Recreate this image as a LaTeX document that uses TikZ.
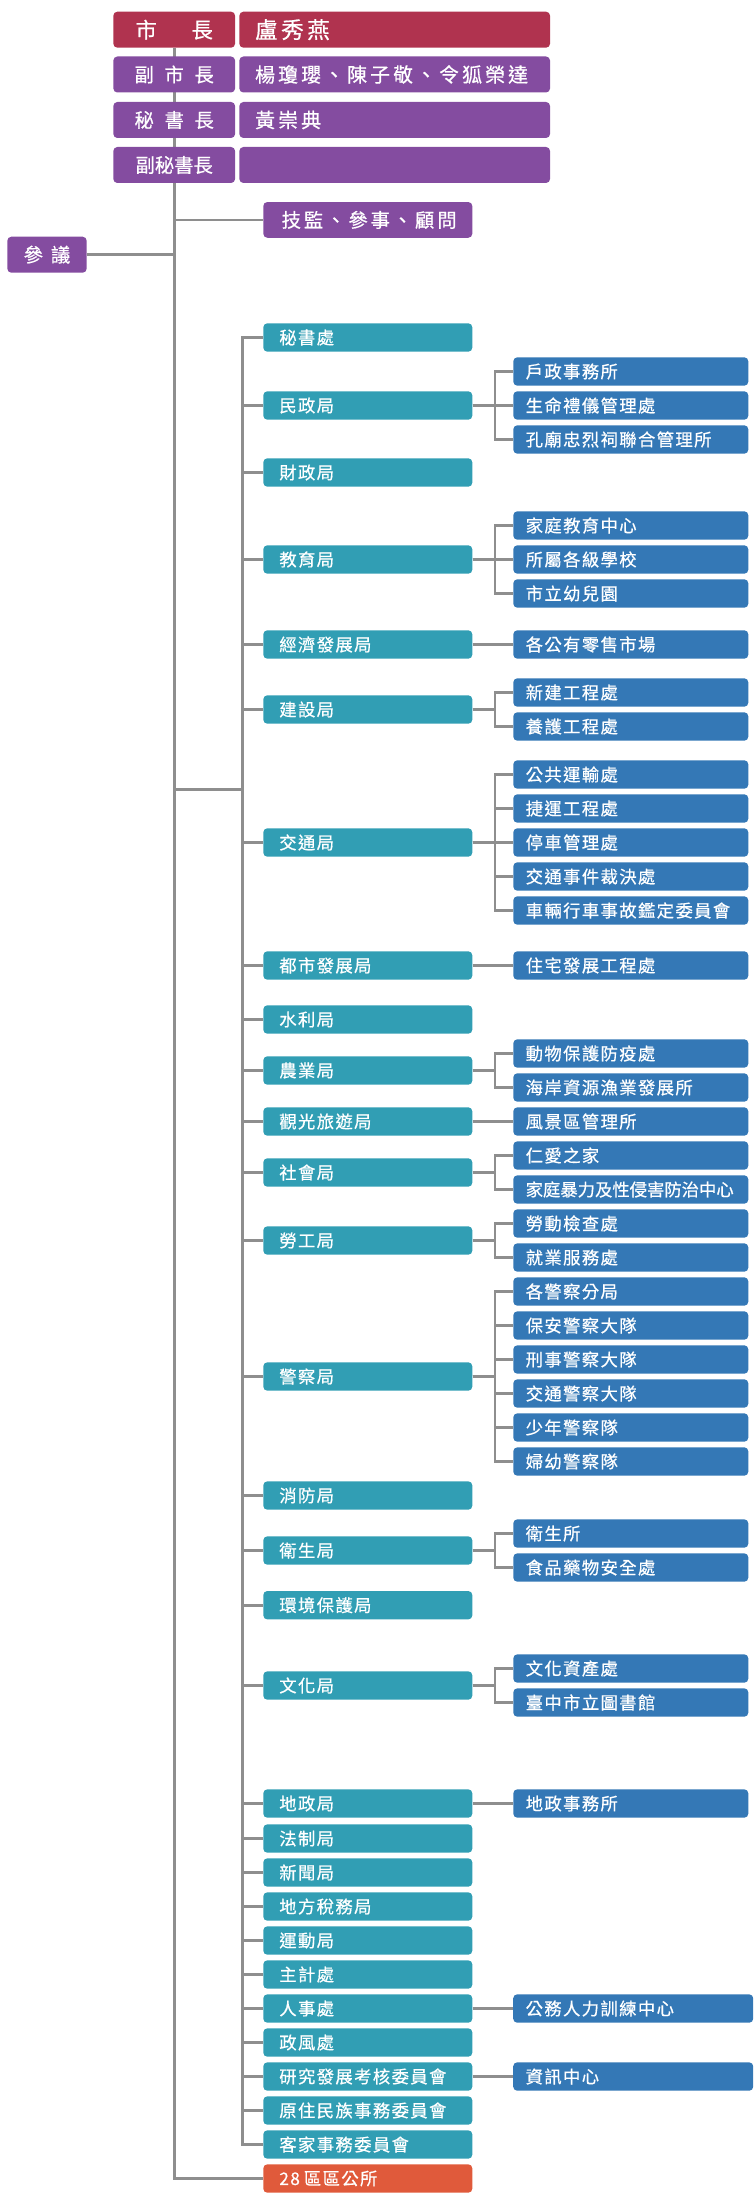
\documentclass[tikz,border=0pt]{standalone}
\usepackage{fontspec}
\usetikzlibrary{backgrounds}
\setmainfont{Noto Sans CJK TC}[FakeBold=0.6]
\newfontfamily\orgfont{Noto Sans CJK TC}[LetterSpace=8, FakeBold=0.6]
\newfontfamily\namefont{Noto Sans CJK TC}[LetterSpace=15, FakeBold=0.6]

\definecolor{mayorred}{HTML}{B0334F}
\definecolor{cabpurple}{HTML}{844CA0}
\definecolor{deptteal}{HTML}{319EB4}
\definecolor{unitblue}{HTML}{3478B6}
\definecolor{distorange}{HTML}{E05A3B}
\definecolor{linkgray}{HTML}{8E8E8E}

\begin{document}
\begin{tikzpicture}[x=0.75pt, y=-0.75pt,
        box/.style={rounded corners=3pt, inner ysep=0pt, text=white},
        head/.style={box, fill=cabpurple, minimum width=91.3pt, minimum height=27pt, inner xsep=0pt, font=\fontsize{14.5pt}{17pt}\selectfont},
        headname/.style={box, fill=cabpurple, minimum height=27pt, inner xsep=11.8pt, text width=209.4pt, align=left, font=\namefont\fontsize{15pt}{17pt}\selectfont},
        bureau/.style={box, fill=deptteal, minimum height=21.3pt, inner xsep=12pt, text width=132.75pt, align=left, font=\orgfont\fontsize{13pt}{15pt}\selectfont},
        unit/.style={box, fill=unitblue, minimum height=21.3pt, inner xsep=9.3pt, text width=157.65pt, align=left, font=\orgfont\fontsize{13pt}{15pt}\selectfont},
        unitwide/.style={unit, text width=161.4pt},
        link/.style={draw=linkgray, line width=2pt}
    ]

    \useasboundingbox (0,0) rectangle (756,2201);

    \def\bx{367.8} % bureau column
    \def\ux{630.8} % unit column

    % mayor, deputies, secretaries
    \node[head, fill=mayorred, font=\fontsize{16pt}{18pt}\selectfont] (mayor) at (174.2, 29.7) {市\hspace{26pt}長};
    \node[headname, fill=mayorred, font=\namefont\fontsize{17pt}{19pt}\selectfont] (mayorname) at (394.7, 29.7) {盧秀燕};
    \node[head] (deputy) at (174.2, 74.5) {副\hspace{8pt}市\hspace{8pt}長};
    \node[headname] (deputyname) at (394.7, 74.5) {楊瓊瓔、陳子敬、令狐榮達};
    \node[head] (secgen) at (174.2, 120) {秘\hspace{8pt}書\hspace{8pt}長};
    \node[headname] (secgenname) at (394.7, 120) {黃崇典};
    \node[head] (depsec) at (174.2, 165) {副秘書長};
    \node[headname] (depsecname) at (394.7, 165) {};

    % advisers and counsellors
    \node[box, fill=cabpurple, minimum height=26.8pt, inner xsep=13.8pt, text width=129.15pt, align=left,
          font=\namefont\fontsize{14.5pt}{16pt}\selectfont] (advisers) at (\bx, 219.9) {技監、參事、顧問};
    \node[box, fill=cabpurple, minimum width=59.5pt, minimum height=27pt, inner xsep=0pt,
          font=\fontsize{14.5pt}{16pt}\selectfont] (counsel) at (47, 254.7) {參\hspace{6pt}議};

    % bureaus
    \foreach \n/\y/\t in {1/337.5/秘書處, 2/405.5/民政局, 3/472.5/財政局, 4/559.5/教育局,
        5/644.5/經濟發展局, 6/709.5/建設局, 7/842.5/交通局, 8/965.5/都市發展局,
        9/1019.5/水利局, 10/1070.5/農業局, 11/1121.5/觀光旅遊局, 12/1172.5/社會局,
        13/1240.5/勞工局, 14/1376.5/警察局, 15/1495.5/消防局, 16/1550.5/衛生局,
        17/1605.2/環境保護局, 18/1685.5/文化局, 19/1803.5/地政局, 20/1838.5/法制局,
        21/1872.5/新聞局, 22/1906.5/地方稅務局, 23/1940.5/運動局, 24/1974.5/主計處,
        25/2008.5/人事處, 26/2042.5/政風處, 27/2076.5/研究發展考核委員會,
        28/2110.5/原住民族事務委員會, 29/2144.5/客家事務委員會}
        \node[bureau] (b\n) at (\bx, \y) {\t};
    \node[bureau, fill=distorange] (dist) at (\bx, 2178.5) {28\hspace{3pt}區區公所};

    % units under the bureaus
    \foreach \n/\y/\t in {1/371.5/戶政事務所, 2/405.5/生命禮儀管理處, 3/439.5/孔廟忠烈祠聯合管理所,
        4/525.5/家庭教育中心, 5/559.5/所屬各級學校, 6/593.5/市立幼兒園, 7/644.5/各公有零售市場,
        8/692.5/新建工程處, 9/726.5/養護工程處, 10/774.5/公共運輸處, 11/808.5/捷運工程處,
        12/842.5/停車管理處, 13/876.5/交通事件裁決處, 14/910.5/車輛行車事故鑑定委員會,
        15/965.5/住宅發展工程處, 16/1053.5/動物保護防疫處, 17/1087.5/海岸資源漁業發展所,
        18/1121.5/風景區管理所, 19/1155.5/仁愛之家, 21/1223.5/勞動檢查處, 22/1257.5/就業服務處,
        23/1291.5/各警察分局, 24/1325.5/保安警察大隊, 25/1359.5/刑事警察大隊,
        26/1393.5/交通警察大隊, 27/1427.5/少年警察隊, 28/1461.5/婦幼警察隊,
        29/1533.5/衛生所, 30/1567.5/食品藥物安全處, 31/1668.5/文化資產處,
        32/1702.5/臺中市立圖書館, 33/1803.5/地政事務所}
        \node[unit] (u\n) at (\ux, \y) {\t};
    \node[unit, font=\fontsize{13pt}{15pt}\selectfont] (u20) at (\ux, 1189.5) {家庭暴力及性侵害防治中心};
    \node[unitwide] (u34) at (633.2, 2008.5) {公務人力訓練中心};
    \node[unitwide] (u35) at (633.2, 2076.5) {資訊中心};

    % connectors
    \begin{scope}[on background layer]
        \draw[link] (mayor.south) |- (dist.west);
        \draw[link] (advisers.west) -- (advisers.west -| mayor.south);
        \draw[link] (counsel.east) -- (counsel.east -| mayor.south);
        \draw[link] (b1.west) -- ++(-20.6,0) |- (b29.west);
        \coordinate (join) at (242.7, 789.3);
        \draw[link] (join) -- (join -| mayor.south);
        \foreach \n in {2,...,28}
            \draw[link] (b\n.west) -- ++(-20.6,0);
        \foreach \p/\c in {2/1, 2/2, 2/3, 4/4, 4/5, 4/6, 5/7, 6/8, 6/9,
            7/10, 7/11, 7/12, 7/13, 7/14, 8/15, 10/16, 10/17, 11/18, 12/19, 12/20,
            13/21, 13/22, 14/23, 14/24, 14/25, 14/26, 14/27, 14/28, 16/29, 16/30,
            18/31, 18/32, 19/33, 25/34, 27/35}
            \draw[link] (b\p.east) -- ++(22.4,0) |- (u\c.west);
    \end{scope}

\end{tikzpicture}
\end{document}
